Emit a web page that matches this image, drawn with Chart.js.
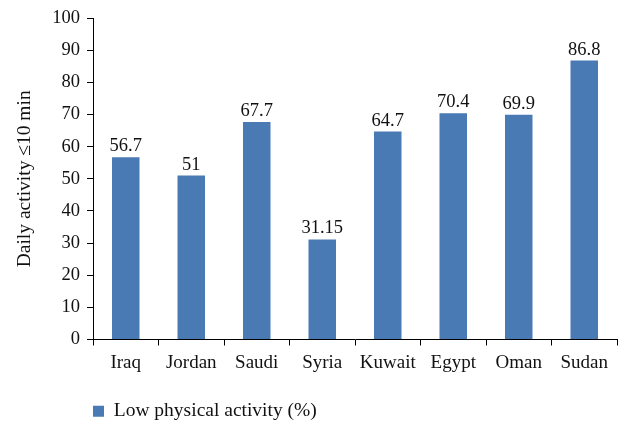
<!DOCTYPE html>
<html>
<head>
<meta charset="utf-8">
<script src="https://cdn.jsdelivr.net/npm/chart.js@4/dist/chart.umd.min.js"></script>
<style>
html,body{margin:0;padding:0;background:#fff;}
#wrap{width:620px;height:423px;position:relative;}
</style>
</head>
<body>
<div id="wrap"><canvas id="c"></canvas></div>
<script>
const categories = ["Iraq","Jordan","Saudi","Syria","Kuwait","Egypt","Oman","Sudan"];
const values = [56.7, 51, 67.7, 31.15, 64.7, 70.4, 69.9, 86.8];
const valueLabels = ["56.7","51","67.7","31.15","64.7","70.4","69.9","86.8"];
const seriesName = "Low physical activity (%)";
const yTitle = "Daily activity \u226410 min";

const FONT = "'Liberation Serif', 'DejaVu Serif', serif";
const barColor = "#4a7ab4";

const valueLabelPlugin = {
  id: 'valueLabels',
  afterDatasetsDraw(chart) {
    const ctx = chart.ctx;
    const meta = chart.getDatasetMeta(0);
    ctx.save();
    ctx.font = "18.5px " + FONT;
    ctx.fillStyle = "#111";
    ctx.textAlign = "center";
    ctx.textBaseline = "alphabetic";
    meta.data.forEach((bar, i) => {
      ctx.fillText(valueLabels[i], bar.x, bar.y - 6);
    });
    ctx.restore();
  }
};

new Chart(document.getElementById('c'), {
  type: 'bar',
  data: {
    labels: categories,
    datasets: [{
      label: seriesName,
      data: values,
      backgroundColor: barColor,
      borderWidth: 0,
      barPercentage: 0.42,
      categoryPercentage: 1.0
    }]
  },
  options: {
    responsive: true,
    maintainAspectRatio: false,
    animation: false,
    devicePixelRatio: 1,
    layout: { padding: { left: 0, right: 3, top: 18, bottom: -8 } },
    plugins: {
      tooltip: { enabled: false },
      legend: {
        position: 'bottom',
        align: 'start',
        fullSize: false,
        labels: {
          boxWidth: 11,
          boxHeight: 11,
          padding: 0,
          color: '#111',
          font: { family: FONT, size: 19.5 }
        }
      }
    },
    scales: {
      x: {
        grid: { drawOnChartArea: false, drawTicks: true, tickLength: 6, color: '#000', offset: true },
        border: { display: true, color: '#000', width: 1 },
        ticks: { color: '#111', font: { family: FONT, size: 19 }, padding: 6, maxRotation: 0 },
        afterFit(scale) { scale.height = 62; }
      },
      y: {
        min: 0, max: 100,
        ticks: { stepSize: 10, color: '#111', font: { family: FONT, size: 18.5 }, padding: 7 },
        grid: { drawOnChartArea: false, drawTicks: true, tickLength: 6, color: '#000' },
        border: { display: true, color: '#000', width: 1 },
        title: { display: true, text: yTitle, color: '#111', font: { family: FONT, size: 19.5 }, padding: { top: 13, bottom: 0 } },
        afterFit(scale) { scale.width = 93; }
      }
    }
  },
  plugins: [valueLabelPlugin]
});
</script>
</body>
</html>
